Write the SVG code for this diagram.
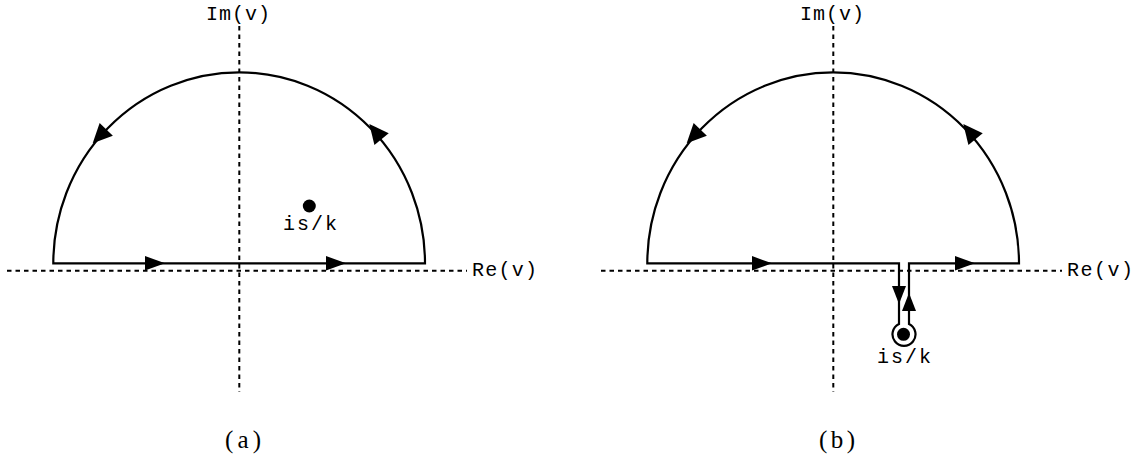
<svg xmlns="http://www.w3.org/2000/svg" xmlns:xlink="http://www.w3.org/1999/xlink" width="1141" height="464" viewBox="0 0 1141 464">
<style>
.axis{fill:none;stroke:#000;stroke-width:2;stroke-dasharray:4.5 4}
.contour{fill:none;stroke:#000;stroke-width:2.2;stroke-linejoin:miter}
.tt{font-family:"Liberation Mono","Courier New",monospace;font-size:20px;fill:#000}
.cap{font-family:"Liberation Serif","Times New Roman",serif;font-size:25px;fill:#000}
.dot{fill:#000}
</style>
<defs>
<path id="ahs" d="M0,0 L-20,-7.2 L-20,7.2 Z" fill="#000"/>
<path id="ahk" d="M0,0 L-18,-7 L-18,7 Z" fill="#000"/>
<path id="ahc" d="M0,0 L-19.5,-9.2 L-19.5,9.2 Z" fill="#000"/>
</defs>
<rect width="1141" height="464" fill="#fff"/>
<g id="connectors">
<!-- panel a axes -->
<line class="axis" x1="7" y1="270.7" x2="467" y2="270.7"/>
<line class="axis" x1="239.3" y1="26" x2="239.3" y2="392"/>
<!-- panel b axes -->
<line class="axis" x1="601" y1="270.7" x2="1062" y2="270.7"/>
<line class="axis" x1="833.3" y1="26" x2="833.3" y2="392"/>
<!-- panel a contour -->
<path class="contour" d="M53.3,263.3 L425,263.3 A185.85,191 0 0 0 53.3,263.3 Z"/>
<use xlink:href="#ahs" transform="translate(165,263.3)"/>
<use xlink:href="#ahs" transform="translate(346,263.3)"/>
<use xlink:href="#ahc" transform="translate(92.7,143.3) rotate(134)"/>
<use xlink:href="#ahc" transform="translate(369.3,124) rotate(-129)"/>
<!-- panel b contour -->
<path class="contour" d="M647.3,263.3 L899,263.3 L899,324 A11.5,11.5 0 1 0 909,324 L909,263.3 L1019,263.3 A185.85,191 0 0 0 647.3,263.3 Z"/>
<use xlink:href="#ahs" transform="translate(772,263.3)"/>
<use xlink:href="#ahs" transform="translate(975,263.3)"/>
<use xlink:href="#ahk" transform="translate(899,304) rotate(90)"/>
<use xlink:href="#ahk" transform="translate(909,293) rotate(-90)"/>
<use xlink:href="#ahc" transform="translate(686.7,143.3) rotate(134)"/>
<use xlink:href="#ahc" transform="translate(963.3,124) rotate(-129)"/>
</g>
<g id="labels-a">
<text class="tt" x="206" y="20" textLength="64" lengthAdjust="spacing">Im(v)</text>
<text class="tt" x="472" y="276" textLength="65" lengthAdjust="spacing">Re(v)</text>
<text class="cap" x="225" y="448" textLength="36" lengthAdjust="spacing">(a)</text>
</g>
<g id="pole-a">
<circle class="dot" cx="309.3" cy="206" r="6.5"/>
<text class="tt" x="283" y="230" textLength="54" lengthAdjust="spacing">is/k</text>
</g>
<g id="labels-b">
<text class="tt" x="800" y="20" textLength="64" lengthAdjust="spacing">Im(v)</text>
<text class="tt" x="1067" y="276" textLength="66" lengthAdjust="spacing">Re(v)</text>
<text class="cap" x="819" y="448" textLength="36" lengthAdjust="spacing">(b)</text>
</g>
<g id="pole-b">
<circle class="dot" cx="903.5" cy="334.3" r="6.5"/>
<text class="tt" x="877" y="363" textLength="54" lengthAdjust="spacing">is/k</text>
</g>
</svg>
